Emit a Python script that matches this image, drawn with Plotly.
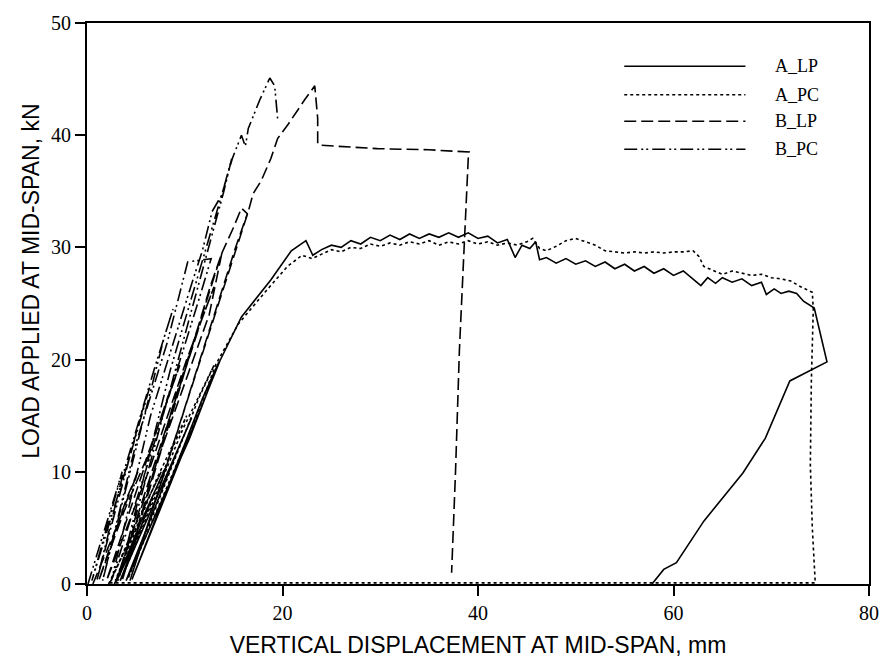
import plotly.graph_objects as go

# ---------------- data ----------------
A_LP_x = [2.8, 4.6, 5.6, 4.5, 3.0, 5.5, 8.0, 6.8, 3.4, 8.3, 10.7, 9.3, 4.0,
          10.5, 13.5, 11.8, 4.6, 11.0, 13.6, 15.8, 18.8, 20.9, 22.4, 23.1,
          24, 25, 26, 27, 28, 29, 30, 31, 32, 33, 34, 35, 36, 37, 38, 39, 40,
          41, 42, 43, 43.8, 44.5, 45.3, 45.9, 46.3, 47, 48, 49, 50, 51, 52,
          53, 54, 55, 56, 57, 58, 59, 60, 61, 62, 62.8, 63.5, 64.3, 65, 66,
          67, 68, 69, 69.5, 70.3, 71, 71.8, 72.6, 73.3, 74.4, 75.7, 71.9,
          69.4, 67.1, 63.1, 60.3, 59.0, 57.8]
A_LP_y = [0.0, 3.5, 5.2, 3.0, 0.2, 5.5, 10.3, 8.0, 0.3, 10.0, 14.8, 12.0, 0.3,
          13.0, 19.8, 16.5, 0.4, 14.2, 19.9, 23.8, 27.1, 29.7, 30.6, 29.3,
          29.8, 30.2, 30.0, 30.6, 30.3, 30.9, 30.6, 31.1, 30.7, 31.2, 30.8,
          31.2, 30.9, 31.3, 30.9, 31.3, 30.8, 31.0, 30.4, 30.7, 29.1, 30.2,
          29.9, 30.5, 28.9, 29.1, 28.6, 29.0, 28.5, 28.8, 28.3, 28.7, 28.1,
          28.5, 27.9, 28.3, 27.7, 28.1, 27.5, 27.9, 27.2, 26.6, 27.3, 26.8,
          27.3, 26.9, 27.2, 26.6, 26.9, 25.8, 26.3, 25.9, 26.1, 25.9, 25.2,
          24.6, 19.8, 18.1, 13.0, 9.9, 5.6, 1.9, 1.3, 0.0]

A_PC_x = [2.2, 5.0, 3.6, 2.4, 4.8, 7.6, 6.2, 2.9, 7.2, 10.2, 8.8, 3.5, 9.8,
          13.0, 11.4, 4.2, 10.8, 13.2, 15.5, 18.2, 20.5, 22.0, 23.0,
          24, 25, 26, 27, 28, 29, 30, 31, 32, 33, 34, 35, 36, 37, 38, 39, 40,
          41, 42, 43, 44, 45, 45.6, 46.3, 47, 48, 49, 50, 51, 52, 53, 54, 55,
          56, 57, 58, 59, 60, 61, 62, 62.6, 63.1, 64, 65, 66, 67, 68, 69, 70,
          71, 72, 73, 74.2, 74.3, 74.1, 74.0, 74.2, 74.5, 60, 40, 20, 2.2]
A_PC_y = [0.0, 5.0, 2.5, 0.2, 5.0, 10.0, 7.5, 0.3, 9.5, 15.0, 12.2, 0.4, 13.8,
          19.5, 16.5, 0.5, 14.0, 19.6, 23.2, 26.0, 28.3, 29.3, 29.0,
          29.4, 29.8, 29.6, 30.0, 29.9, 30.3, 30.1, 30.4, 30.2, 30.5, 30.3,
          30.6, 30.2, 30.5, 30.3, 30.6, 30.3, 30.5, 30.2, 30.4, 30.2, 30.5,
          30.8, 29.9, 29.7, 30.1, 30.6, 30.8, 30.5, 30.2, 29.7, 29.6, 29.5,
          29.6, 29.5, 29.6, 29.5, 29.6, 29.6, 29.7, 29.2, 28.3, 28.0, 27.6,
          27.9, 27.7, 27.5, 27.6, 27.3, 27.2, 27.0, 26.5, 26.0, 24.5, 18.0,
          10.6, 5.0, 0.1, 0.1, 0.1, 0.1, 0.1]

B_LP_x = [0.6, 3.0, 5.2, 4.0, 1.2, 3.8, 6.0, 9.5, 8.2, 2.0, 6.5, 10.2, 13.0,
          11.7, 3.0, 8.0, 12.5, 13.8, 12.6, 3.6, 9.0, 13.8, 15.0, 15.8, 16.4,
          15.2, 4.4, 10.5, 16.5, 17.0, 17.8, 18.8, 19.5, 20.6, 22.3, 23.3,
          23.6, 23.6, 24.0, 29.7, 35.0, 39.1, 39.0, 38.6, 38.1, 37.7, 37.3]
B_LP_y = [0.0, 5.0, 10.0, 7.5, 0.3, 6.5, 11.0, 19.5, 16.5, 0.3, 10.5, 20.0,
          26.5, 23.5, 0.3, 13.0, 24.0, 29.5, 26.5, 0.3, 16.5, 29.5, 31.8, 33.5,
          33.0, 30.0, 0.3, 17.0, 33.2, 34.8, 35.9, 37.9, 39.7, 41.0, 43.2,
          44.4, 41.5, 39.2, 39.1, 38.8, 38.7, 38.5, 37.9, 30.0, 20.9, 10.0, 1.0]

B_PC_x = [0.1, 2.0, 3.6, 2.8, 0.5, 2.5, 4.6, 6.4, 5.5, 1.0, 3.6, 7.0, 8.8,
          7.9, 1.6, 5.0, 8.2, 10.3, 12.7, 11.5, 2.5, 6.5, 10.8, 11.8, 12.8,
          13.8, 14.8, 14.0, 3.2, 8.5, 14.9, 15.8, 16.2, 16.5, 17.7, 18.7,
          19.2, 19.5]
B_PC_y = [0.0, 5.5, 10.0, 7.5, 0.3, 6.0, 12.0, 17.5, 15.0, 0.3, 9.5, 19.5,
          24.5, 22.0, 0.3, 12.5, 21.5, 28.7, 29.0, 25.5, 0.3, 15.0, 27.0,
          29.7, 33.2, 34.7, 37.9, 35.0, 0.3, 19.0, 38.0, 40.0, 39.0, 40.6,
          43.2, 45.1, 44.4, 41.5]

series_names = ["A_LP", "A_PC", "B_LP", "B_PC"]
x_ticks = [0, 20, 40, 60, 80]
y_ticks = [0, 10, 20, 30, 40, 50]

# ---------------- styling ----------------
dashes = ["solid", "dot", "12px,5px", "13px,4px,2px,3px,2px,4px"]
xs = [A_LP_x, A_PC_x, B_LP_x, B_PC_x]
ys = [A_LP_y, A_PC_y, B_LP_y, B_PC_y]

fig = go.Figure()
for name, x, y, d in zip(series_names, xs, ys, dashes):
    fig.add_trace(go.Scatter(x=x, y=y, mode="lines", name=name,
                             line=dict(color="black", width=1.6, dash=d),
                             showlegend=False))

# manual legend (long line samples as in the reference)
leg_y = [0.923, 0.872, 0.825, 0.775]
for name, d, ly in zip(series_names, dashes, leg_y):
    fig.add_shape(type="line", xref="paper", yref="paper",
                  x0=0.687, x1=0.842, y0=ly, y1=ly,
                  line=dict(color="black", width=1.5, dash=d))
    fig.add_annotation(xref="paper", yref="paper", x=0.877, y=ly,
                       xanchor="left", yanchor="middle", text=name,
                       showarrow=False,
                       font=dict(family="Liberation Serif", size=18, color="black"))

# y-axis title (placed slightly above centre as in the reference)
fig.add_annotation(xref="paper", yref="paper", x=-0.072, y=0.54,
                   xanchor="center", yanchor="middle", textangle=-90,
                   text="LOAD APPLIED AT MID-SPAN, kN", showarrow=False,
                   font=dict(family="Liberation Sans", size=23, color="black"))

axis_common = dict(showline=True, linecolor="black", linewidth=2, mirror=True,
                   ticks="outside", ticklen=10, tickwidth=1.5, tickcolor="black",
                   showgrid=False, zeroline=False,
                   tickfont=dict(family="Liberation Serif", size=20, color="black"))

fig.update_layout(
    width=891, height=666,
    margin=dict(l=87, r=14, t=20, b=79),
    paper_bgcolor="white", plot_bgcolor="white",
    xaxis=dict(range=[0, 80], tickvals=x_ticks, **axis_common,
               title=dict(text="VERTICAL DISPLACEMENT AT MID-SPAN, mm",
                          font=dict(family="Liberation Sans", size=23, color="black"),
                          standoff=14)),
    yaxis=dict(range=[0, 50], tickvals=y_ticks, **axis_common),
)

fig.write_html("out.html")
